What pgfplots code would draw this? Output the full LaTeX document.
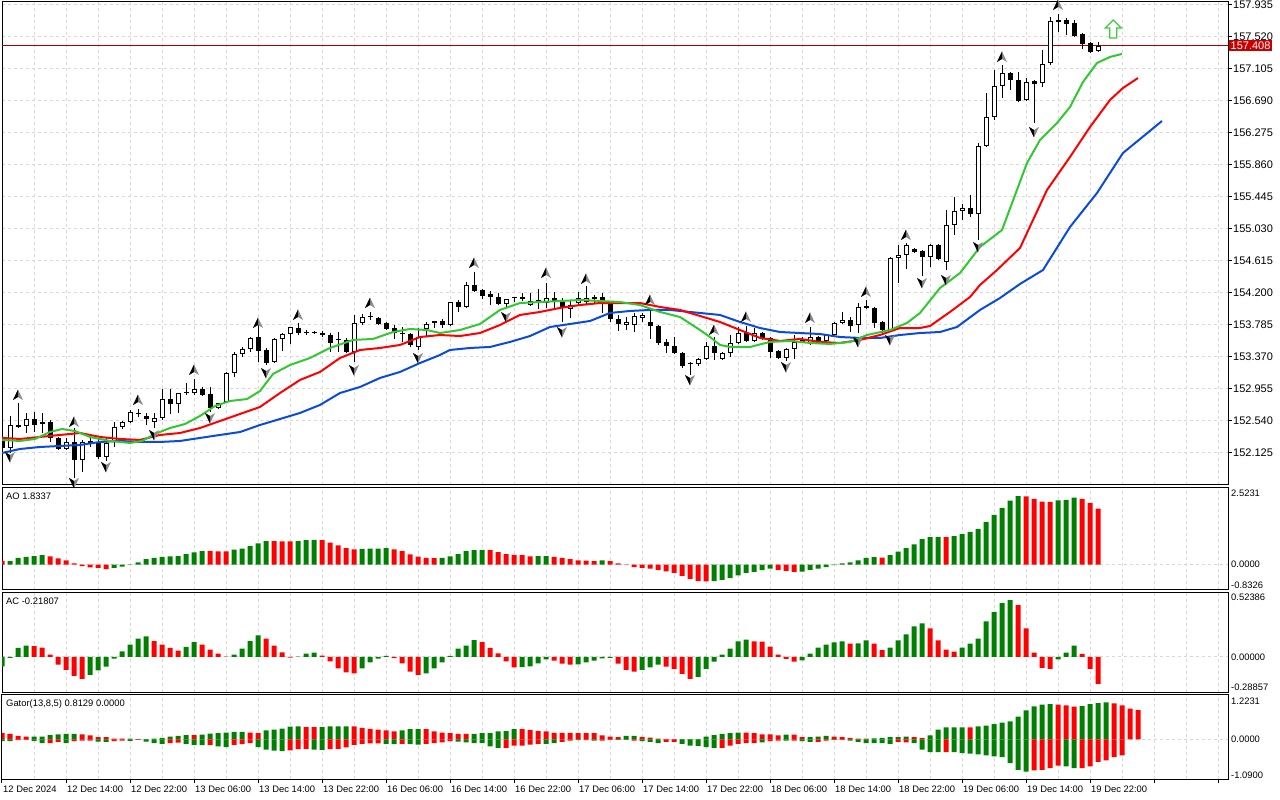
\documentclass[border=0pt]{standalone}
\usepackage{fontspec}
\setmainfont{Liberation Sans}
\usepackage{pgfplots}
\usepackage{pgfplotstable}
\pgfplotsset{compat=1.18}

\definecolor{aogreen}{RGB}{0,128,0}
\definecolor{aored}{RGB}{255,0,0}
\definecolor{jaw}{RGB}{10,75,220}
\definecolor{teeth}{RGB}{255,0,0}
\definecolor{lips}{RGB}{50,200,50}
\definecolor{gridc}{RGB}{215,215,215}
\definecolor{pline}{RGB}{175,0,0}
\definecolor{pbox}{RGB}{200,0,0}
\definecolor{arrowg}{RGB}{60,205,60}

\pgfdeclareplotmark{fracup}{%
  \pgfsetfillcolor{black!45}%
  \pgfpathmoveto{\pgfqpoint{0bp}{5.5bp}}\pgfpathlineto{\pgfqpoint{5bp}{-5bp}}%
  \pgfpathlineto{\pgfqpoint{0bp}{-2bp}}\pgfpathlineto{\pgfqpoint{-5bp}{-5bp}}%
  \pgfpathclose\pgfusepathqfill
  \pgfsetfillcolor{black}%
  \pgfpathmoveto{\pgfqpoint{0bp}{5.5bp}}\pgfpathlineto{\pgfqpoint{0bp}{-2bp}}%
  \pgfpathlineto{\pgfqpoint{-5bp}{-5bp}}\pgfpathclose\pgfusepathqfill}
\pgfdeclareplotmark{fracdn}{%
  \pgfsetfillcolor{black!45}%
  \pgfpathmoveto{\pgfqpoint{0bp}{-5.5bp}}\pgfpathlineto{\pgfqpoint{5bp}{5bp}}%
  \pgfpathlineto{\pgfqpoint{0bp}{2bp}}\pgfpathlineto{\pgfqpoint{-5bp}{5bp}}%
  \pgfpathclose\pgfusepathqfill
  \pgfsetfillcolor{black}%
  \pgfpathmoveto{\pgfqpoint{0bp}{-5.5bp}}\pgfpathlineto{\pgfqpoint{0bp}{2bp}}%
  \pgfpathlineto{\pgfqpoint{-5bp}{5bp}}\pgfpathclose\pgfusepathqfill}
\pgfdeclareplotmark{garrow}{%
  \pgfpathmoveto{\pgfqpoint{0bp}{9bp}}\pgfpathlineto{\pgfqpoint{8bp}{1bp}}%
  \pgfpathlineto{\pgfqpoint{3.5bp}{1bp}}\pgfpathlineto{\pgfqpoint{3.5bp}{-9bp}}%
  \pgfpathlineto{\pgfqpoint{-3.5bp}{-9bp}}\pgfpathlineto{\pgfqpoint{-3.5bp}{1bp}}%
  \pgfpathlineto{\pgfqpoint{-8bp}{1bp}}\pgfpathclose\pgfusepathqfillstroke}

\pgfplotstableread{
k o h l c
0 152.293 152.319 152.138 152.189
1 152.189 152.605 152.125 152.488
2 152.488 152.773 152.449 152.462
3 152.475 152.643 152.384 152.566
4 152.566 152.656 152.397 152.488
5 152.501 152.643 152.384 152.527
6 152.527 152.553 152.268 152.319
7 152.319 152.332 152.164 152.177
8 152.177 152.319 152.164 152.268
9 152.268 152.449 151.801 152.034
10 152.034 152.293 151.879 152.268
11 152.255 152.319 152.203 152.281
12 152.268 152.319 152.047 152.073
13 152.073 152.319 152.021 152.255
14 152.268 152.527 152.203 152.462
15 152.462 152.540 152.436 152.527
16 152.527 152.683 152.514 152.657
17 152.644 152.696 152.592 152.631
18 152.605 152.644 152.488 152.566
19 152.527 152.644 152.449 152.579
20 152.579 152.955 152.553 152.825
21 152.825 152.955 152.631 152.760
22 152.760 152.903 152.644 152.903
23 152.903 153.033 152.877 152.916
24 152.903 153.085 152.877 152.955
25 152.955 152.981 152.864 152.877
26 152.890 152.981 152.657 152.708
27 152.708 152.773 152.695 152.773
28 152.786 153.176 152.773 153.163
29 153.163 153.437 153.111 153.411
30 153.411 153.502 153.372 153.476
31 153.476 153.632 153.437 153.619
32 153.632 153.787 153.307 153.450
33 153.463 153.489 153.268 153.294
34 153.307 153.619 153.294 153.606
35 153.606 153.684 153.450 153.671
36 153.671 153.762 153.541 153.762
37 153.749 153.813 153.658 153.684
38 153.684 153.723 153.658 153.680
39 153.684 153.710 153.671 153.697
40 153.684 153.710 153.632 153.658
41 153.658 153.684 153.437 153.554
42 153.593 153.697 153.437 153.589
43 153.593 153.619 153.424 153.437
44 153.437 153.917 153.307 153.813
45 153.813 153.930 153.787 153.891
46 153.891 153.956 153.852 153.895
47 153.878 153.891 153.787 153.800
48 153.813 153.826 153.722 153.735
49 153.748 153.787 153.606 153.684
50 153.671 153.762 153.567 153.667
51 153.671 153.684 153.502 153.528
52 153.502 153.749 153.463 153.632
53 153.733 153.826 153.632 153.800
54 153.813 153.839 153.748 153.839
55 153.839 153.865 153.748 153.787
56 153.787 154.083 153.774 154.083
57 154.083 154.109 153.953 154.018
58 154.018 154.342 154.005 154.303
59 154.303 154.472 154.213 154.226
60 154.239 154.252 154.122 154.161
61 154.187 154.226 154.044 154.148
62 154.148 154.200 154.044 154.057
63 154.057 154.122 154.005 154.122
64 154.135 154.148 154.083 154.139
65 154.148 154.200 154.096 154.122
66 154.044 154.200 154.031 154.096
67 154.109 154.252 153.992 154.083
68 154.070 154.330 154.005 154.135
69 154.135 154.213 153.992 154.083
70 154.083 154.135 153.826 154.018
71 153.992 154.109 153.878 154.044
72 154.070 154.213 154.044 154.135
73 154.083 154.291 154.044 154.135
74 154.122 154.174 154.070 154.148
75 154.148 154.200 153.940 154.070
76 154.070 154.083 153.826 153.865
77 153.865 153.917 153.706 153.800
78 153.787 153.891 153.720 153.826
79 153.787 153.943 153.693 153.904
80 153.878 153.943 153.826 153.917
81 153.826 153.969 153.606 153.774
82 153.774 153.787 153.528 153.554
83 153.567 153.606 153.424 153.515
84 153.515 153.632 153.411 153.424
85 153.424 153.437 153.228 153.254
86 153.280 153.307 153.137 153.276
87 153.280 153.357 153.254 153.344
88 153.344 153.565 153.331 153.513
89 153.513 153.632 153.331 153.424
90 153.344 153.437 153.331 153.424
91 153.424 153.658 153.372 153.554
92 153.554 153.762 153.541 153.684
93 153.684 153.775 153.567 153.580
94 153.580 153.749 153.567 153.684
95 153.684 153.697 153.593 153.606
96 153.619 153.632 153.357 153.437
97 153.450 153.463 153.344 153.357
98 153.357 153.489 153.318 153.476
99 153.476 153.658 153.344 153.567
100 153.606 153.632 153.554 153.554
101 153.554 153.762 153.528 153.632
102 153.632 153.645 153.541 153.554
103 153.580 153.671 153.567 153.658
104 153.658 153.826 153.632 153.813
105 153.813 153.956 153.800 153.852
106 153.852 153.891 153.696 153.774
107 153.787 154.070 153.683 154.018
108 154.031 154.109 153.992 154.005
109 154.005 154.018 153.748 153.813
110 153.826 153.839 153.658 153.720
111 153.720 154.667 153.694 154.654
112 154.654 154.823 154.330 154.693
113 154.693 154.849 154.511 154.823
114 154.771 154.784 154.719 154.732
115 154.745 154.758 154.420 154.667
116 154.667 154.836 154.537 154.823
117 154.823 154.836 154.628 154.641
118 154.602 155.276 154.498 155.082
119 155.082 155.445 154.952 155.263
120 155.263 155.354 155.147 155.302
121 155.302 155.471 155.186 155.224
122 155.224 156.146 154.887 156.107
123 156.107 156.794 156.094 156.483
124 156.483 157.092 156.444 156.885
125 156.885 157.157 156.729 157.053
126 157.053 157.066 156.833 156.962
127 156.962 157.066 156.677 156.690
128 156.703 156.988 156.690 156.937
129 156.950 156.962 156.405 156.911
130 156.924 157.352 156.872 157.170
131 157.183 157.780 157.157 157.728
132 157.741 157.818 157.585 157.715
133 157.741 157.767 157.546 157.689
134 157.702 157.741 157.520 157.533
135 157.559 157.572 157.365 157.429
136 157.442 157.455 157.313 157.326
137 157.339 157.455 157.326 157.408
}\candles

\pgfplotstableread{
k v c
0 0.11 0
1 0.11 1
2 0.22 1
3 0.25 1
4 0.28 1
5 0.31 1
6 0.27 0
7 0.20 0
8 0.14 0
9 0.04 0
10 -0.05 0
11 -0.09 0
12 -0.11 0
13 -0.15 0
14 -0.11 1
15 -0.07 1
16 0.01 1
17 0.07 1
18 0.18 1
19 0.22 1
20 0.25 1
21 0.27 1
22 0.28 1
23 0.34 1
24 0.40 1
25 0.44 1
26 0.44 0
27 0.43 0
28 0.43 0
29 0.49 1
30 0.52 1
31 0.60 1
32 0.69 1
33 0.77 1
34 0.77 0
35 0.76 0
36 0.76 0
37 0.77 1
38 0.80 1
39 0.81 1
40 0.80 0
41 0.72 0
42 0.63 0
43 0.54 0
44 0.50 0
45 0.51 1
46 0.52 1
47 0.52 1
48 0.54 1
49 0.50 0
50 0.44 0
51 0.33 0
52 0.26 0
53 0.22 0
54 0.21 0
55 0.22 1
56 0.27 1
57 0.34 1
58 0.44 1
59 0.47 1
60 0.48 1
61 0.47 0
62 0.41 0
63 0.34 0
64 0.32 0
65 0.31 0
66 0.27 0
67 0.28 1
68 0.28 1
69 0.25 0
70 0.22 0
71 0.18 0
72 0.14 0
73 0.13 0
74 0.11 0
75 0.14 1
76 0.11 0
77 0.04 0
78 -0.01 0
79 -0.08 0
80 -0.11 0
81 -0.13 0
82 -0.17 0
83 -0.22 0
84 -0.27 0
85 -0.37 0
86 -0.47 0
87 -0.54 0
88 -0.55 0
89 -0.54 1
90 -0.50 1
91 -0.44 1
92 -0.35 1
93 -0.27 1
94 -0.24 1
95 -0.18 1
96 -0.13 1
97 -0.17 0
98 -0.21 0
99 -0.24 0
100 -0.23 1
101 -0.17 1
102 -0.13 1
103 -0.08 1
104 -0.02 1
105 0.04 1
106 0.07 1
107 0.14 1
108 0.22 1
109 0.24 1
110 0.23 0
111 0.31 1
112 0.42 1
113 0.54 1
114 0.66 1
115 0.83 1
116 0.90 1
117 0.91 1
118 0.90 0
119 0.93 1
120 1.00 1
121 1.07 1
122 1.17 1
123 1.40 1
124 1.63 1
125 1.86 1
126 2.09 1
127 2.24 1
128 2.23 0
129 2.15 0
130 2.06 0
131 2.05 0
132 2.10 1
133 2.12 1
134 2.19 1
135 2.15 0
136 2.02 0
137 1.8337 0
}\aodata

\pgfplotstableread{
k v c
0 -0.077 1
1 -0.008 1
2 0.074 1
3 0.093 1
4 0.088 0
5 0.077 0
6 0.019 0
7 -0.063 0
8 -0.104 0
9 -0.153 0
10 -0.178 0
11 -0.145 1
12 -0.109 1
13 -0.079 1
14 -0.014 1
15 0.046 1
16 0.101 1
17 0.150 1
18 0.167 1
19 0.129 0
20 0.101 0
21 0.074 0
22 0.052 0
23 0.082 1
24 0.120 1
25 0.101 0
26 0.060 0
27 0.027 0
28 0.003 0
29 0.019 1
30 0.068 1
31 0.129 1
32 0.175 1
33 0.150 0
34 0.093 0
35 0.038 0
36 -0.005 0
37 0.003 1
38 0.027 1
39 0.036 1
40 0.011 0
41 -0.036 0
42 -0.093 0
43 -0.126 0
44 -0.134 0
45 -0.093 1
46 -0.044 1
47 -0.014 1
48 0.008 1
49 -0.010 0
50 -0.052 0
51 -0.118 0
52 -0.145 0
53 -0.134 1
54 -0.093 1
55 -0.044 1
56 0.008 1
57 0.068 1
58 0.093 1
59 0.137 1
60 0.120 0
61 0.074 0
62 0.030 0
63 -0.036 0
64 -0.085 0
65 -0.083 1
66 -0.077 1
67 -0.052 1
68 -0.019 1
69 -0.030 0
70 -0.055 0
71 -0.063 0
72 -0.060 1
73 -0.044 1
74 -0.030 1
75 -0.011 1
76 -0.008 1
77 -0.055 0
78 -0.104 0
79 -0.118 0
80 -0.104 1
81 -0.085 1
82 -0.063 1
83 -0.079 0
84 -0.096 0
85 -0.137 0
86 -0.178 0
87 -0.161 1
88 -0.096 1
89 -0.038 1
90 0.019 1
91 0.068 1
92 0.126 1
93 0.142 1
94 0.126 0
95 0.125 0
96 0.085 0
97 0.019 0
98 -0.016 0
99 -0.038 0
100 -0.027 1
101 0.027 1
102 0.077 1
103 0.101 1
104 0.118 1
105 0.126 1
106 0.109 0
107 0.110 1
108 0.134 1
109 0.109 0
110 0.055 0
111 0.077 1
112 0.134 1
113 0.183 1
114 0.249 1
115 0.274 1
116 0.232 0
117 0.134 0
118 0.060 0
119 0.044 0
120 0.077 1
121 0.109 1
122 0.150 1
123 0.290 1
124 0.364 1
125 0.438 1
126 0.462 1
127 0.421 0
128 0.232 0
129 0.036 0
130 -0.088 0
131 -0.096 0
132 -0.019 1
133 0.036 1
134 0.093 1
135 0.025 0
136 -0.096 0
137 -0.218 0
}\acdata

\pgfplotstableread{
k u uc l lc
0 0.18 0 -0.05 1
1 0.15 0 -0.05 1
2 0.10 0 -0.02 0
3 0.08 0 -0.01 0
4 0.08 1 -0.04 1
5 0.08 1 -0.10 1
6 0.12 1 -0.10 0
7 0.14 1 -0.07 0
8 0.15 1 -0.10 1
9 0.15 1 -0.05 0
10 0.14 0 -0.03 0
11 0.11 0 -0.03 0
12 0.06 0 -0.06 1
13 0.06 0 -0.07 1
14 0.02 0 -0.05 0
15 0.02 0 -0.03 0
16 0.02 1 -0.04 1
17 0.01 1 -0.01 0
18 0.01 1 -0.06 1
19 0.02 1 -0.10 1
20 0.04 1 -0.12 1
21 0.08 1 -0.10 0
22 0.10 1 -0.09 0
23 0.12 1 -0.12 1
24 0.12 0 -0.15 1
25 0.13 1 -0.16 1
26 0.16 1 -0.15 0
27 0.17 1 -0.19 1
28 0.19 1 -0.21 1
29 0.21 1 -0.15 0
30 0.21 1 -0.13 0
31 0.19 0 -0.10 0
32 0.17 0 -0.21 1
33 0.25 1 -0.28 1
34 0.27 1 -0.31 1
35 0.30 1 -0.32 1
36 0.35 1 -0.30 0
37 0.36 1 -0.27 0
38 0.34 0 -0.26 0
39 0.34 0 -0.28 1
40 0.34 1 -0.29 1
41 0.36 1 -0.27 0
42 0.36 1 -0.26 0
43 0.36 1 -0.22 0
44 0.36 0 -0.15 0
45 0.32 0 -0.12 0
46 0.29 0 -0.11 0
47 0.27 0 -0.11 0
48 0.25 0 -0.12 1
49 0.22 0 -0.13 1
50 0.25 1 -0.12 0
51 0.28 1 -0.13 1
52 0.28 1 -0.14 1
53 0.28 0 -0.12 0
54 0.22 0 -0.10 0
55 0.19 0 -0.08 0
56 0.17 0 -0.05 0
57 0.15 0 -0.06 1
58 0.15 0 -0.08 1
59 0.15 1 -0.10 1
60 0.17 1 -0.10 1
61 0.17 1 -0.19 1
62 0.22 1 -0.23 1
63 0.23 1 -0.23 0
64 0.28 1 -0.17 0
65 0.28 0 -0.17 0
66 0.26 0 -0.14 0
67 0.23 0 -0.12 0
68 0.22 0 -0.12 1
69 0.18 0 -0.10 1
70 0.18 0 -0.07 0
71 0.18 0 -0.03 0
72 0.17 0 -0.02 1
73 0.17 0 -0.02 0
74 0.17 0 -0.03 1
75 0.11 0 -0.03 0
76 0.08 0 -0.01 0
77 0.06 0 -0.01 1
78 0.10 1 -0.01 1
79 0.10 1 -0.03 0
80 0.07 0 -0.05 1
81 0.05 0 -0.07 1
82 0.02 0 -0.10 1
83 0.01 0 -0.07 0
84 0.01 1 -0.07 0
85 0.01 1 -0.12 1
86 0.01 1 -0.17 1
87 0.01 1 -0.18 1
88 0.08 1 -0.21 1
89 0.12 1 -0.23 1
90 0.15 1 -0.23 0
91 0.17 1 -0.17 0
92 0.19 1 -0.12 0
93 0.19 0 -0.10 0
94 0.17 0 -0.10 0
95 0.14 0 -0.08 1
96 0.14 0 -0.05 0
97 0.11 0 -0.03 0
98 0.13 1 -0.03 1
99 0.13 0 -0.03 0
100 0.06 0 -0.05 1
101 0.06 1 -0.07 1
102 0.08 1 -0.07 0
103 0.10 1 -0.03 0
104 0.08 0 -0.01 1
105 0.06 0 -0.01 0
106 0.04 0 -0.03 1
107 0.02 0 -0.07 1
108 0.02 0 -0.10 1
109 0.03 1 -0.10 1
110 0.04 1 -0.10 1
111 0.06 1 -0.12 1
112 0.06 1 -0.07 0
113 0.08 1 -0.08 0
114 0.06 0 -0.10 1
115 0.04 0 -0.28 1
116 0.11 1 -0.35 1
117 0.27 1 -0.35 1
118 0.33 1 -0.35 0
119 0.33 1 -0.35 1
120 0.33 1 -0.38 1
121 0.33 0 -0.39 1
122 0.36 1 -0.41 1
123 0.38 1 -0.44 1
124 0.42 1 -0.47 1
125 0.46 1 -0.49 1
126 0.50 1 -0.65 1
127 0.63 1 -0.84 1
128 0.80 1 -0.89 1
129 0.91 1 -0.85 0
130 0.96 1 -0.84 0
131 0.97 1 -0.79 0
132 0.96 0 -0.72 0
133 0.94 0 -0.74 1
134 0.90 0 -0.79 1
135 0.92 1 -0.79 0
136 0.97 1 -0.74 0
137 1.00 1 -0.62 0
138 1.02 1 -0.58 0
139 0.99 0 -0.49 0
140 0.94 0 -0.44 0
141 0.85 0 0 2
142 0.81 0 0 2
}\gatordata

\pgfplotsset{
  gridline/.style={dash pattern=on 3bp off 3bp, gridc, line width=1bp},
  panel/.style={scale only axis, width=1226bp, xmin=0, xmax=153.25,
    axis line style={line width=1bp, black},
    xtick={0,8,...,152}, minor xtick={4,12,...,148},
    xmajorgrids, xminorgrids,
    major grid style={gridline}, minor grid style={gridline},
    xticklabels={}, tick align=outside, clip mode=individual,
    every x tick/.append style={draw=none},
    every minor tick/.append style={draw=none}},
  sub/.style={ytick={0}, yticklabels={}, ymajorgrids,
    every y tick/.append style={draw=none}},
  hbar/.style={ybar, bar width=5bp, bar shift=0pt, draw=none, fill=#1},
}

\begin{document}
\begin{tikzpicture}
\useasboundingbox (0,0) rectangle (1280bp,800bp);
\fill[white] (0,0) rectangle (1280bp,800bp);

% ---------------- main price panel
\begin{axis}[panel, at={(2bp,798bp)}, anchor=north west, height=483bp,
  ymin=151.710, ymax=157.974,
  ytick={152.125,152.540,152.955,153.370,153.785,154.200,154.615,155.030,155.445,155.860,156.275,156.690,157.105,157.520,157.935},
  yticklabels={152.125,152.540,152.955,153.370,153.785,154.200,154.615,155.030,155.445,155.860,156.275,156.690,157.105,157.520,157.935},
  ytick pos=right, yticklabel pos=right, ymajorgrids,
  major tick length=4bp,
  every y tick/.append style={draw=black, line width=1bp},
  yticklabel style={font=\fontsize{11bp}{13bp}\selectfont, anchor=west, inner sep=0pt, xshift=1bp}]

\addplot[pline, line width=1bp, forget plot] coordinates {(0,157.408) (153.25,157.408)};

% wicks
\addplot[draw=none, mark=none, forget plot, error bars/.cd, y dir=plus, y explicit, error mark=none,
  error bar style={draw=black, line width=1bp, solid}]
  table[x=k, y=l, y error plus expr={\thisrow{h}-\thisrow{l}}] {\candles};
% bodies
\addplot[draw=none, mark=none, forget plot, error bars/.cd, y dir=plus, y explicit, error mark=none,
  error bar style={draw=black, line width=5bp, solid}]
  table[x=k, y expr={min(\thisrow{o},\thisrow{c})}, y error plus expr={max(abs(\thisrow{c}-\thisrow{o}),0.013)}] {\candles};
% hollow (bullish) bodies
\addplot[draw=none, mark=none, forget plot, error bars/.cd, y dir=plus, y explicit, error mark=none,
  error bar style={draw=white, line width=3bp, solid}]
  table[x=k, y expr={min(\thisrow{o},\thisrow{c})+0.013}, y error plus expr={max(\thisrow{c}-\thisrow{o}-0.026,0)}] {\candles};

% Alligator: jaw (blue)
\addplot[jaw, line width=2bp, line join=round, mark=none] coordinates {
(0,152.125) (2.25,152.177) (4.75,152.203) (7.25,152.216) (9.75,152.229) (12.25,152.268) (14.75,152.281) (17.25,152.268) (19.75,152.268) (22.25,152.281) (24.75,152.320) (27.25,152.359) (29.75,152.397) (32.25,152.488) (34.75,152.566) (37.25,152.644) (39.75,152.748) (42.25,152.903) (44.75,152.981) (47.25,153.098) (49.75,153.176) (52.25,153.292) (54.75,153.396) (56,153.461) (58.5,153.487) (61,153.500) (63.5,153.565) (66,153.642) (68.5,153.759) (71,153.798) (73.5,153.837) (76,153.941) (78.5,153.967) (81,153.980) (83.5,153.980) (86,153.954) (88.5,153.928) (89.75,153.915) (92.25,153.824) (94.75,153.746) (97.25,153.694) (99.75,153.681) (102.25,153.668) (104.75,153.629) (107.25,153.617) (109.75,153.617) (112.25,153.655) (114.75,153.681) (117.25,153.694) (119.375,153.759) (122.25,153.980) (124.75,154.135) (127.25,154.317) (130.125,154.498) (133.5,155.056) (136.875,155.497) (140.125,156.016) (142.875,156.250) (145,156.431)};
% teeth (red)
\addplot[teeth, line width=2bp, line join=round, mark=none] coordinates {
(0,152.320) (2.25,152.307) (4.75,152.333) (7.25,152.359) (9.75,152.384) (12.25,152.333) (14.75,152.307) (17.25,152.294) (19.75,152.359) (22.25,152.384) (24.75,152.449) (27.25,152.540) (29.75,152.631) (32.25,152.722) (34.75,152.903) (37.25,153.072) (39.75,153.176) (42.25,153.357) (44.75,153.461) (47.25,153.487) (49.75,153.526) (52.25,153.629) (54.75,153.655) (57.25,153.642) (59.75,153.681) (62.25,153.785) (64.75,153.915) (67.25,153.954) (69.75,154.006) (72.25,154.044) (74.75,154.070) (79.75,154.070) (82.25,154.019) (84.75,153.980) (87.25,153.902) (89.75,153.824) (92.25,153.720) (94.75,153.617) (97.25,153.578) (99.75,153.604) (102.25,153.565) (104.75,153.552) (107.25,153.591) (109.75,153.655) (112.25,153.746) (114.75,153.746) (116,153.772) (118.5,153.954) (121,154.148) (122.25,154.304) (124.375,154.498) (127.25,154.784) (130.625,155.536) (133.5,155.964) (136,156.353) (138.5,156.703) (140.125,156.859) (142,156.988)};
% lips (green)
\addplot[lips, line width=2bp, line join=round, mark=none] coordinates {
(0,152.294) (2.25,152.281) (4.125,152.307) (6,152.397) (7.5,152.436) (9.125,152.410) (11,152.333) (13.5,152.281) (16,152.255) (17.5,152.281) (19.125,152.371) (21,152.449) (22.875,152.501) (24.75,152.605) (26.625,152.735) (28.5,152.799) (30.625,152.825) (32.25,152.929) (33.875,153.150) (36,153.266) (38.5,153.357) (41,153.487) (43.875,153.591) (46.375,153.604) (48.875,153.694) (51,153.733) (53.125,153.720) (54.75,153.681) (57.25,153.720) (59.75,153.798) (62.25,153.980) (64.75,154.070) (67.25,154.083) (72.25,154.109) (74.75,154.096) (77.25,154.083) (79.75,154.044) (82.25,153.954) (84.75,153.889) (87.25,153.720) (88.5,153.629) (89.75,153.526) (91,153.500) (93.5,153.500) (96,153.565) (98.5,153.578) (101,153.552) (103.5,153.539) (106,153.565) (108.125,153.655) (111,153.720) (113.125,153.811) (114.75,153.941) (117.25,154.265) (119.75,154.459) (122.25,154.797) (125,155.017) (128.125,155.886) (129.75,156.184) (131.875,156.405) (133.5,156.612) (135.125,156.937) (136.875,157.183) (138.5,157.261) (140,157.300)};

% fractals
\addplot[only marks, mark=fracup] coordinates {
(2,152.877) (9,152.527) (17,152.812) (24,153.201) (32,153.811) (37,153.915) (46,154.070) (59,154.589) (68,154.459) (73,154.382) (81,154.109) (89,153.720) (93,153.889) (101,153.876) (108,154.213) (113,154.952) (125,157.261) (132,157.935)};
\addplot[only marks, mark=fracdn] coordinates {
(1,152.073) (9,151.736) (13,151.944) (19,152.359) (26,152.579) (33,153.163) (44,153.201) (52,153.357) (63,153.889) (70,153.694) (86,153.072) (98,153.240) (107,153.565) (111,153.591) (115,154.330) (118,154.369) (122,154.797) (129,156.288)};
% signal arrow
\addplot[only marks, mark=garrow, mark options={draw=arrowg, fill=white, line width=1.3bp}] coordinates {(138.9,157.624)};
\end{axis}

\node[fill=pbox, text=white, font=\fontsize{11bp}{13bp}\selectfont, inner xsep=1.5bp, inner ysep=2bp, anchor=west] at (1229bp,754.4bp) {157.408};

% ---------------- AO
\begin{axis}[panel, sub, at={(2bp,312.5bp)}, anchor=north west, height=102.5bp, ymin=-0.8326, ymax=2.5231]
\addplot[hbar=aogreen, restrict expr to domain={\thisrow{c}}{1:1}] table[x=k, y=v] {\aodata};
\addplot[hbar=aored, restrict expr to domain={\thisrow{c}}{0:0}] table[x=k, y=v] {\aodata};
\end{axis}

% ---------------- AC
\begin{axis}[panel, sub, at={(2bp,207.5bp)}, anchor=north west, height=100bp, ymin=-0.28857, ymax=0.52386]
\addplot[hbar=aogreen, restrict expr to domain={\thisrow{c}}{1:1}] table[x=k, y=v] {\acdata};
\addplot[hbar=aored, restrict expr to domain={\thisrow{c}}{0:0}] table[x=k, y=v] {\acdata};
\end{axis}

% ---------------- Gator
\begin{axis}[panel, sub, at={(2bp,105bp)}, anchor=north west, height=84bp, ymin=-1.09, ymax=1.2231,
  xtick pos=bottom, major tick length=4bp, minor tick length=0pt,
  every x tick/.append style={draw=black, line width=1bp}]
\addplot[hbar=aogreen, restrict expr to domain={\thisrow{uc}}{1:1}] table[x=k, y=u] {\gatordata};
\addplot[hbar=aored, restrict expr to domain={\thisrow{uc}}{0:0}] table[x=k, y=u] {\gatordata};
\addplot[hbar=aogreen, restrict expr to domain={\thisrow{lc}}{1:1}] table[x=k, y=l] {\gatordata};
\addplot[hbar=aored, restrict expr to domain={\thisrow{lc}}{0:0}] table[x=k, y=l] {\gatordata};
\end{axis}

% ---------------- texts
\begin{scope}[every node/.style={font=\fontsize{9.4bp}{11bp}\selectfont, inner sep=0pt}]
\node[anchor=west] at (6bp,304bp) {AO 1.8337};
\node[anchor=west] at (6bp,199bp) {AC -0.21807};
\node[anchor=west] at (6bp,96bp) {Gator(13,8,5) 0.8129 0.0000};

\node[anchor=west] at (1231bp,307bp) {2.5231};
\node[anchor=west] at (1231bp,235.4bp) {0.0000};
\node[anchor=west] at (1231bp,215bp) {-0.8326};
\node[anchor=west] at (1231bp,202.3bp) {0.52386};
\node[anchor=west] at (1231bp,143bp) {0.00000};
\node[anchor=west] at (1231bp,112.7bp) {-0.28857};
\node[anchor=west] at (1231bp,99bp) {1.2231};
\node[anchor=west] at (1231bp,60.6bp) {0.0000};
\node[anchor=west] at (1231bp,25bp) {-1.0900};

\foreach \lab [count=\i from 0] in {12 Dec 2024,12 Dec 14:00,12 Dec 22:00,13 Dec 06:00,13 Dec 14:00,13 Dec 22:00,16 Dec 06:00,16 Dec 14:00,16 Dec 22:00,17 Dec 06:00,17 Dec 14:00,17 Dec 22:00,18 Dec 06:00,18 Dec 14:00,18 Dec 22:00,19 Dec 06:00,19 Dec 14:00,19 Dec 22:00}
  \node[anchor=west] at ({(3+64*\i)*1bp},11bp) {\lab};
\end{scope}
\end{tikzpicture}
\end{document}
